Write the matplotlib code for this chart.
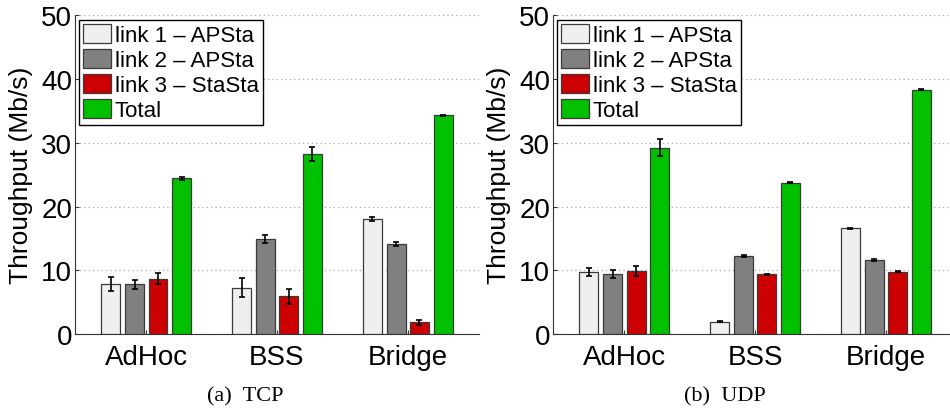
import matplotlib
matplotlib.use("Agg")
import matplotlib.pyplot as plt
import matplotlib.transforms as mtransforms
import numpy as np

plt.rcParams["font.family"] = ["Liberation Sans", "DejaVu Sans"]

CATEGORIES = ["AdHoc", "BSS", "Bridge"]
SERIES = ["link 1 \u2013 APSta", "link 2 \u2013 APSta", "link 3 \u2013 StaSta", "Total"]
COLORS = ["#efefef", "#808080", "#cc0000", "#00c000"]
CAPTIONS = ["(a)  TCP", "(b)  UDP"]

# TCP throughput (Mb/s) and error half-widths
tcp_link1 = [7.8, 7.3, 18.1]
tcp_link2 = [7.8, 14.9, 14.2]
tcp_link3 = [8.7, 5.95, 1.9]
tcp_total = [24.4, 28.2, 34.3]
tcp_link1_err = [1.1, 1.5, 0.3]
tcp_link2_err = [0.65, 0.6, 0.3]
tcp_link3_err = [0.85, 1.2, 0.4]
tcp_total_err = [0.3, 1.1, 0.1]

# UDP throughput (Mb/s) and error half-widths
udp_link1 = [9.8, 2.0, 16.6]
udp_link2 = [9.4, 12.2, 11.6]
udp_link3 = [9.9, 9.4, 9.8]
udp_total = [29.2, 23.75, 38.3]
udp_link1_err = [0.65, 0.1, 0.1]
udp_link2_err = [0.6, 0.15, 0.15]
udp_link3_err = [0.8, 0.1, 0.1]
udp_total_err = [1.35, 0.1, 0.1]

tcp_vals = [tcp_link1, tcp_link2, tcp_link3, tcp_total]
tcp_errs = [tcp_link1_err, tcp_link2_err, tcp_link3_err, tcp_total_err]
udp_vals = [udp_link1, udp_link2, udp_link3, udp_total]
udp_errs = [udp_link1_err, udp_link2_err, udp_link3_err, udp_total_err]

fig = plt.figure(figsize=(9.5, 4.1), dpi=100)
ax_l = fig.add_axes([0.0789, 0.1822, 0.4253, 0.779])
ax_r = fig.add_axes([0.5821, 0.1822, 0.4253, 0.779])

x = np.arange(1, len(CATEGORIES) + 1)
offsets = [-0.271, -0.088, 0.09, 0.271]
bar_w = 0.145
label_shift = [-3, -11, -1]  # px shift of category labels


def draw_panel(ax, vals, errs, caption, cap_x):
    for i in range(4):
        ax.bar(x + offsets[i], vals[i], width=bar_w, color=COLORS[i],
               edgecolor="#3a3a3a", linewidth=0.9, label=SERIES[i], zorder=3)
        ax.errorbar(x + offsets[i], vals[i], yerr=errs[i], fmt="none",
                    ecolor="black", elinewidth=1.2, capsize=2.5, capthick=1.2, zorder=4)
    ax.set_xlim(0.455, 3.545)
    ax.set_ylim(0, 50)
    ax.set_yticks([0, 10, 20, 30, 40, 50])
    ax.set_xticks(x)
    ax.set_xticklabels(CATEGORIES)
    for lab, dx in zip(ax.get_xticklabels(), label_shift):
        lab.set_transform(lab.get_transform() +
                          mtransforms.ScaledTranslation(dx / 100, 0, fig.dpi_scale_trans))
    ax.tick_params(axis="both", direction="in", length=3, labelsize=20, color="#333333")
    ax.tick_params(axis="x", pad=7)
    ax.tick_params(axis="y", pad=2)
    ax.grid(axis="y", linestyle=(0, (1, 2.5)), color="#aaaaaa", linewidth=0.9, zorder=0)
    ax.spines["top"].set_visible(False)
    ax.spines["right"].set_visible(False)
    ax.spines["left"].set_color("#333333")
    ax.spines["bottom"].set_color("#333333")
    ax.set_ylabel("Throughput (Mb/s)", fontsize=19, labelpad=6)
    leg = ax.legend(loc="upper left", bbox_to_anchor=(0.01, 0.985), borderaxespad=0,
                    fontsize=16, handlelength=1.25, handleheight=0.95, handletextpad=0.15,
                    labelspacing=0.12, borderpad=0.2, fancybox=False, framealpha=1)
    leg.get_frame().set_edgecolor("black")
    leg.get_frame().set_linewidth(1.0)
    fig.text(cap_x, 0.032, caption, ha="center", va="center", fontsize=16,
             family=["Liberation Serif", "DejaVu Serif"])


draw_panel(ax_l, tcp_vals, tcp_errs, CAPTIONS[0], 245 / 950)
draw_panel(ax_r, udp_vals, udp_errs, CAPTIONS[1], 725 / 950)

fig.savefig("out.png", dpi=100)
